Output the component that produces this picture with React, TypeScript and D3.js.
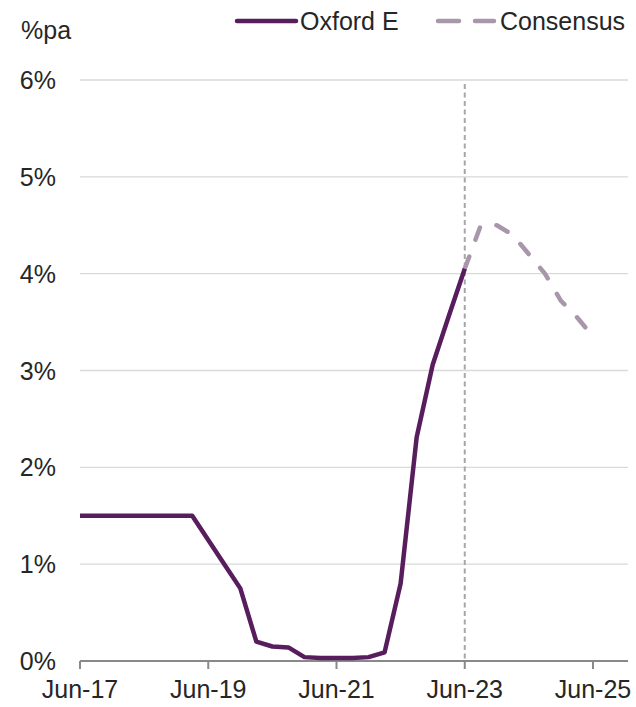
import React from "react";
import * as d3 from "d3";

const quarters = [
  "Jun-17","Sep-17","Dec-17","Mar-18","Jun-18","Sep-18","Dec-18","Mar-19",
  "Jun-19","Sep-19","Dec-19","Mar-20","Jun-20","Sep-20","Dec-20","Mar-21",
  "Jun-21","Sep-21","Dec-21","Mar-22","Jun-22","Sep-22","Dec-22","Mar-23",
  "Jun-23","Sep-23","Dec-23","Mar-24","Jun-24","Sep-24","Dec-24","Mar-25","Jun-25",
];

const oxfordValues = [
  1.5, 1.5, 1.5, 1.5, 1.5, 1.5, 1.5, 1.5,
  1.25, 1.0, 0.75, 0.2, 0.15, 0.14, 0.04, 0.03,
  0.03, 0.03, 0.04, 0.09, 0.8, 2.31, 3.06, 3.56,
  4.05,
];

// Consensus starts at Jun-23
const consensusStart = 24;
const consensusValues = [4.05, 4.5, 4.5, 4.4, 4.2, 4.0, 3.72, 3.55, 3.35];

const xTickLabels = ["Jun-17", "Jun-19", "Jun-21", "Jun-23", "Jun-25"];
const yTicks = [0, 1, 2, 3, 4, 5, 6];
const forecastMarker = "Jun-23";

const seriesNames = ["Oxford E", "Consensus"];

export default function App() {
  const W = 636, H = 707;
  const left = 80, right = 628, top = 80, bottom = 661;
  const x = d3.scaleLinear().domain([0, 32]).range([left, 593]);
  const y = d3.scaleLinear().domain([0, 6]).range([bottom, top]);
  const font = "'Liberation Sans', Arial, sans-serif";
  const fs = 25;
  const textColor = "#262626";
  const oxfordColor = "#581d5c";
  const consColor = "#a897aa";

  const line = d3.line<[number, number]>().x(d => x(d[0])).y(d => y(d[1]));
  const oxPts: [number, number][] = oxfordValues.map((v, i) => [i, v]);
  const coPts: [number, number][] = consensusValues.map((v, i) => [consensusStart + i, v]);
  const markerX = x(quarters.indexOf(forecastMarker));

  return (
    <svg width={W} height={H} style={{ position: "absolute", left: 0, top: 0 }}>
      <rect width={W} height={H} fill="#fff" />
      {yTicks.filter(t => t > 0).map(t => (
        <line key={t} x1={left} x2={right} y1={y(t)} y2={y(t)} stroke="#d9d9d9" strokeWidth={1.3} />
      ))}
      {yTicks.map(t => (
        <text key={t} x={56} y={y(t)} dy="0.36em" textAnchor="end" fontFamily={font} fontSize={fs} fill={textColor}>
          {t}%
        </text>
      ))}
      <text x={21} y={39} fontFamily={font} fontSize={fs} fill={textColor}>%pa</text>

      <line x1={markerX} x2={markerX} y1={84} y2={bottom} stroke="#a6a6a6" strokeWidth={2} strokeDasharray="5 3.5" />

      <line x1={left} x2={right} y1={bottom} y2={bottom} stroke="#898989" strokeWidth={2} />
      {xTickLabels.map(lbl => {
        const xi = x(quarters.indexOf(lbl));
        return (
          <g key={lbl}>
            <line x1={xi} x2={xi} y1={bottom} y2={bottom + 8} stroke="#898989" strokeWidth={2} />
            <text x={xi} y={698} textAnchor="middle" fontFamily={font} fontSize={fs} fill={textColor}>{lbl}</text>
          </g>
        );
      })}

      <path d={line(coPts) || ""} fill="none" stroke={consColor} strokeWidth={4.5} strokeDasharray="13 18" strokeLinecap="round" strokeLinejoin="round" />
      <path d={line(oxPts) || ""} fill="none" stroke={oxfordColor} strokeWidth={4.5} strokeLinejoin="round" />

      {/* legend */}
      <line x1={237} x2={296} y1={21} y2={21} stroke={oxfordColor} strokeWidth={4.5} strokeLinecap="round" />
      <text x={300} y={30} fontFamily={font} fontSize={fs} fill={textColor}>{seriesNames[0]}</text>
      <line x1={438} x2={459} y1={21} y2={21} stroke={consColor} strokeWidth={4.5} strokeLinecap="round" />
      <line x1={475} x2={494} y1={21} y2={21} stroke={consColor} strokeWidth={4.5} strokeLinecap="round" />
      <text x={500} y={30} fontFamily={font} fontSize={fs} fill={textColor}>{seriesNames[1]}</text>
    </svg>
  );
}
